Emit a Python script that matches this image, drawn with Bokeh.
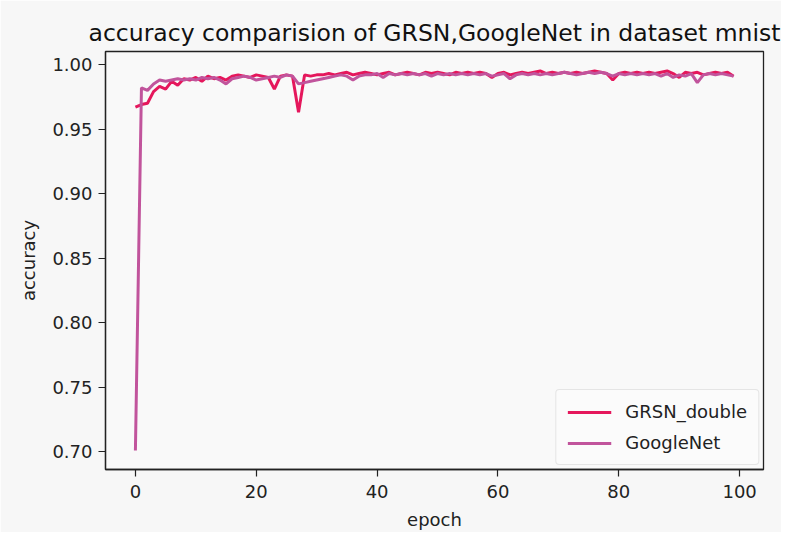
from bokeh.plotting import figure
from bokeh.models import Legend, LegendItem, FixedTicker, NumeralTickFormatter, Range1d
from bokeh.embed import file_html
from bokeh.resources import INLINE

epochs = list(range(100))

grsn_double = [
    0.967, 0.969, 0.970, 0.979, 0.983, 0.981, 0.987, 0.984, 0.989, 0.988,
    0.990, 0.987, 0.991, 0.989, 0.990, 0.988, 0.991, 0.992, 0.991, 0.990,
    0.992, 0.991, 0.990, 0.981, 0.991, 0.992, 0.991, 0.963, 0.992, 0.991,
    0.992, 0.992, 0.993, 0.992, 0.993, 0.994, 0.992, 0.993, 0.994, 0.993,
    0.992, 0.993, 0.994, 0.992, 0.993, 0.994, 0.993, 0.992, 0.994, 0.993,
    0.994, 0.993, 0.992, 0.994, 0.993, 0.994, 0.993, 0.994, 0.993, 0.990,
    0.993, 0.994, 0.992, 0.993, 0.994, 0.993, 0.994, 0.995, 0.993, 0.994,
    0.993, 0.994, 0.993, 0.994, 0.993, 0.994, 0.995, 0.994, 0.993, 0.988,
    0.993, 0.994, 0.993, 0.994, 0.993, 0.994, 0.993, 0.994, 0.995, 0.993,
    0.990, 0.994, 0.993, 0.994, 0.992, 0.993, 0.994, 0.993, 0.994, 0.991,
]

googlenet = [
    0.701, 0.982, 0.980, 0.985, 0.988, 0.987, 0.988, 0.989, 0.988, 0.989,
    0.988, 0.990, 0.989, 0.990, 0.988, 0.985, 0.989, 0.990, 0.991, 0.990,
    0.988, 0.989, 0.990, 0.991, 0.990, 0.992, 0.991, 0.985, 0.986, 0.987,
    0.988, 0.989, 0.990, 0.991, 0.992, 0.991, 0.988, 0.991, 0.992, 0.992,
    0.993, 0.990, 0.993, 0.992, 0.993, 0.992, 0.993, 0.992, 0.993, 0.991,
    0.993, 0.992, 0.993, 0.992, 0.993, 0.992, 0.993, 0.992, 0.993, 0.991,
    0.992, 0.993, 0.989, 0.992, 0.993, 0.992, 0.993, 0.992, 0.993, 0.992,
    0.993, 0.994, 0.993, 0.992, 0.993, 0.994, 0.993, 0.994, 0.993, 0.991,
    0.993, 0.992, 0.993, 0.992, 0.993, 0.992, 0.993, 0.991, 0.993, 0.990,
    0.992, 0.991, 0.993, 0.986, 0.992, 0.993, 0.992, 0.993, 0.992, 0.991,
]

series_names = ["GRSN_double", "GoogleNet"]
series_colors = ["#e5175c", "#c1549c"]
x_ticks = [0, 20, 40, 60, 80, 100]
y_ticks = [0.70, 0.75, 0.80, 0.85, 0.90, 0.95, 1.00]

FONT = "DejaVu Sans"

p = figure(width=781, height=532, output_backend="svg", toolbar_location=None,
           x_range=Range1d(-4.95, 103.95), y_range=Range1d(0.6863, 1.0101),
           min_border_left=105, min_border_right=18, min_border_top=51, min_border_bottom=57)

p.title.text = "accuracy comparision of GRSN,GoogleNet in dataset mnist"
p.title.align = "center"
p.title.text_font = FONT
p.title.text_font_size = "23.5px"
p.title.text_font_style = "normal"
p.title.text_color = "#111111"

p.background_fill_color = "#f9f9f9"
p.border_fill_color = "#f7f7f7"
p.outline_line_color = "#222222"
p.outline_line_width = 1.3
p.grid.visible = False

r1 = p.line(epochs, grsn_double, line_color=series_colors[0], line_width=3)
r2 = p.line(epochs, googlenet, line_color=series_colors[1], line_width=3)

for ax in (p.xaxis[0], p.yaxis[0]):
    ax.axis_line_color = "#222222"
    ax.axis_line_width = 1.3
    ax.major_tick_in = 0
    ax.major_tick_out = 7
    ax.major_tick_line_color = "#222222"
    ax.major_tick_line_width = 1.2
    ax.minor_tick_line_color = None
    ax.major_label_text_font = FONT
    ax.major_label_text_font_size = "18px"
    ax.major_label_text_color = "#222222"
    ax.axis_label_text_font = FONT
    ax.axis_label_text_font_size = "18px"
    ax.axis_label_text_font_style = "normal"
    ax.axis_label_text_color = "#222222"
    ax.major_label_standoff = 6

p.xaxis.major_label_standoff = 8
p.xaxis.ticker = FixedTicker(ticks=x_ticks)
p.yaxis.ticker = FixedTicker(ticks=y_ticks)
p.yaxis.formatter = NumeralTickFormatter(format="0.00")
p.xaxis.axis_label = "epoch"
p.yaxis.axis_label = "accuracy"
p.xaxis.axis_label_standoff = 8
p.yaxis.axis_label_standoff = 10

legend = Legend(items=[LegendItem(label=series_names[0], renderers=[r1]),
                       LegendItem(label=series_names[1], renderers=[r2])],
                location="bottom_right")
legend.label_text_font = FONT
legend.label_text_font_size = "18px"
legend.label_text_color = "#222222"
legend.glyph_width = 44
legend.label_standoff = 14
legend.spacing = 10
legend.padding = 11
legend.margin = 4
legend.border_line_color = "#d0d0d0"
legend.border_line_width = 1
legend.border_radius = 4
legend.background_fill_color = "#fbfbfb"
legend.background_fill_alpha = 1.0
p.add_layout(legend)

open("out.html", "w").write(file_html(p, INLINE))
